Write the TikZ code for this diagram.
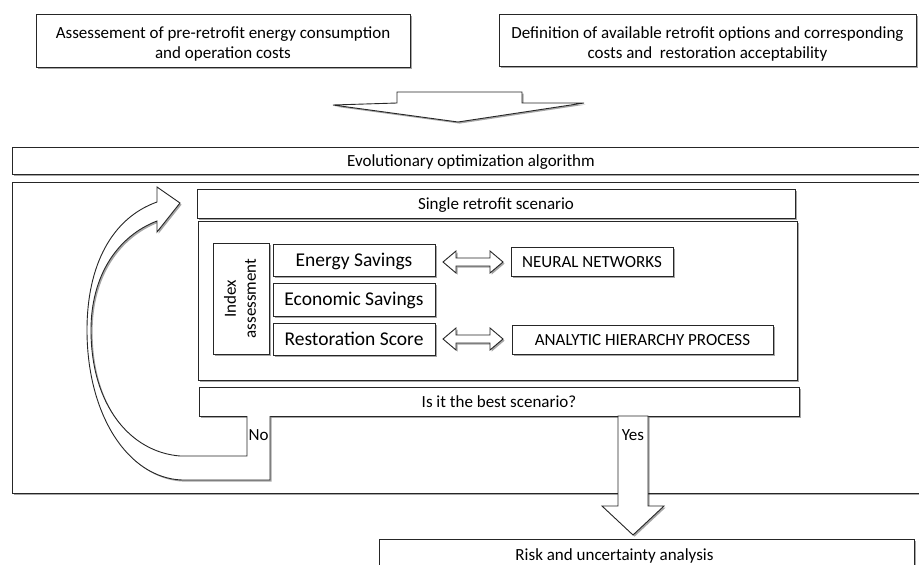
\documentclass[tikz,border=0pt]{standalone}
\usepackage{fontspec}
\setmainfont{Carlito}
\usetikzlibrary{shadows}
\tikzset{
  shad/.style={drop shadow={shadow xshift=1.6pt, shadow yshift=-1.6pt, opacity=0.35, fill=black}},
  box/.style={draw=black!85, line width=0.9pt, fill=white, inner sep=1pt, align=center,
    font=\fontsize{17}{20}\selectfont, shad},
  one/.style={text height=11pt, text depth=0pt},
  big/.style={font=\fontsize{19.5}{23}\selectfont, text height=12.5pt, text depth=0pt},
  blk/.style={draw=black!85, line width=0.9pt, fill=white, line join=miter, shad},
  lbl/.style={font=\fontsize{17}{20}\selectfont, inner sep=0pt}
}
\begin{document}
\begin{tikzpicture}[x=1pt,y=-1pt]
\useasboundingbox (0,0) rectangle (919,565);

% top inputs
\node[box, minimum width=374pt, minimum height=53pt] (pre) at (223,40.5)
  {\rule{0pt}{19pt}Assessement of pre-retrofit energy consumption\\and operation costs};
\node[box, minimum width=417pt, minimum height=52pt] (opt) at (707.5,40)
  {\rule{0pt}{19pt}Definition of available retrofit options and corresponding\\costs and \ restoration acceptability};

% merging block arrow
\draw[blk] (397,92) -- (522,92) -- (522,103) -- (584,103) -- (458,122) -- (333,105) -- (397,103) -- cycle;

% evolutionary algorithm
\node[box, one, minimum width=918pt, minimum height=27pt] (evo) at (471,160.5) {Evolutionary optimization algorithm};
\node[box, minimum width=918pt, minimum height=311pt] (outer) at (471,337.5) {};

% single scenario
\node[box, one, minimum width=598pt, minimum height=29pt] (single) at (496,203.5) {Single retrofit scenario};
\node[box, minimum width=599pt, minimum height=159pt] (inner) at (497.5,300.5) {};

\node[box, minimum width=56pt, minimum height=111pt] (index) at (241,298.5) {};
\node[lbl, rotate=90, align=center] (indextxt) at ([xshift=-1pt]index.center) {Index\\assessment};

\node[box, big, minimum width=162pt, minimum height=32pt] (energy) at (354,260) {Energy Savings};
\node[box, big, minimum width=162pt, minimum height=33pt] (econ) at (354,299.5) {Economic Savings};
\node[box, big, minimum width=162pt, minimum height=32pt] (resto) at (354,339) {Restoration Score};

\node[box, one, minimum width=162pt, minimum height=29pt] (nn) at (592,261.5) {NEURAL NETWORKS};
\node[box, one, minimum width=261pt, minimum height=29pt] (ahp) at (642.5,339.5) {ANALYTIC HIERARCHY PROCESS};

% double arrows
\draw[blk] (443,262) -- (456,251) -- (456,258) -- (490,258) -- (490,251) -- (503,262)
  -- (490,273) -- (490,266) -- (456,266) -- (456,273) -- cycle;
\draw[blk] (443,339) -- (456,328) -- (456,335) -- (490,335) -- (490,328) -- (503,339)
  -- (490,350) -- (490,343) -- (456,343) -- (456,350) -- cycle;

% decision
\node[box, one, minimum width=600pt, minimum height=29pt] (best) at (499,401.5) {Is it the best scenario?};

% No loop
\draw[blk] (247,416) -- (247,456) -- (180,456)
  .. controls (130,452) and (91,405) .. (91,330)
  .. controls (91,275) and (118,236) .. (157,221)
  -- (157,232) -- (180,203) -- (157,187) -- (157,202)
  .. controls (112,218) and (87,265) .. (87,330)
  .. controls (87,415) and (128,478) .. (182,480)
  -- (270,480) -- (270,416);
\node[lbl] (no) at (258.5,435) {No};

% Yes arrow
\draw[blk] (618,416) -- (648,416) -- (648,506) -- (664,506) -- (633,535) -- (602,506) -- (618,506) -- cycle;
\node[lbl] (yes) at (633,435) {Yes};

% risk
\node[box, one, minimum width=535pt, minimum height=32pt] (risk) at (646.5,555)
  {Risk and uncertainty analysis\hspace*{64pt}};
\end{tikzpicture}
\end{document}
